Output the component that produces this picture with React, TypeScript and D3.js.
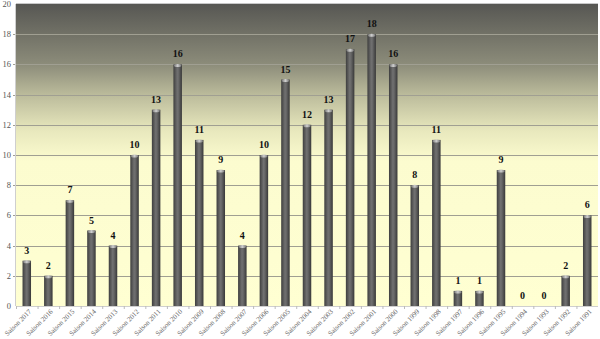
import React from "react";
import * as d3 from "d3";

const seasons = ["Saison 2017","Saison 2016","Saison 2015","Saison 2014","Saison 2013","Saison 2012","Saison 2011","Saison 2010","Saison 2009","Saison 2008","Saison 2007","Saison 2006","Saison 2005","Saison 2004","Saison 2003","Saison 2002","Saison 2001","Saison 2000","Saison 1999","Saison 1998","Saison 1997","Saison 1996","Saison 1995","Saison 1994","Saison 1993","Saison 1992","Saison 1991"];
const values = [3,2,7,5,4,10,13,16,11,9,4,10,15,12,13,17,18,16,8,11,1,1,9,0,0,2,6];
const yTicks = [0,2,4,6,8,10,12,14,16,18,20];

export default function App() {
  const W = 600, H = 339;
  const left = 16, right = 598, top = 4, bottom = 306;
  const x = d3.scaleBand<string>().domain(seasons).range([left, right]).paddingInner(0).paddingOuter(0);
  const y = d3.scaleLinear().domain([0, 20]).range([bottom, top]);
  const bw = 8.5;
  const font = "'Liberation Serif', 'Times New Roman', serif";
  return (
    <svg width={W} height={H} style={{ position: "absolute", left: 0, top: 0, display: "block" }}>
      <defs>
        <linearGradient id="bg" x1="0" y1="0" x2="0" y2="1">
          <stop offset="0" stopColor="#575753" />
          <stop offset="0.2" stopColor="#8c8c7a" />
          <stop offset="0.3" stopColor="#bbbb9b" />
          <stop offset="0.42" stopColor="#e8e8bd" />
          <stop offset="0.52" stopColor="#fcfccf" />
          <stop offset="1" stopColor="#ffffd2" />
        </linearGradient>
        <linearGradient id="bar" x1="0" y1="0" x2="1" y2="0">
          <stop offset="0" stopColor="#3e3e3e" />
          <stop offset="0.45" stopColor="#707070" />
          <stop offset="0.6" stopColor="#686868" />
          <stop offset="1" stopColor="#383838" />
        </linearGradient>
        <linearGradient id="cap" x1="0" y1="0" x2="1" y2="0">
          <stop offset="0" stopColor="#777" />
          <stop offset="0.5" stopColor="#cfcfcf" />
          <stop offset="1" stopColor="#777" />
        </linearGradient>
      </defs>
      <rect x={left} y={top} width={right - left} height={bottom - top} fill="url(#bg)" />
      <line x1={left} x2={right} y1={top - 0.5} y2={top - 0.5} stroke="#c8c8c8" strokeWidth={1} />
      {yTicks.map((t) => (
        <g key={t}>
          {t > 0 && t < 20 && (
            <line x1={left - 3} x2={right} y1={Math.round(y(t)) + 0.5} y2={Math.round(y(t)) + 0.5} stroke="#a09f92" strokeWidth={1} />
          )}
          <text x={11} y={y(t) + 3} fontSize={8.5} fill="#555" textAnchor="end" fontFamily={font}>{t}</text>
        </g>
      ))}
      <line x1={left - 0.5} x2={left - 0.5} y1={top} y2={bottom} stroke="#cfcfcf" strokeWidth={1} />
      <line x1={left} x2={right} y1={bottom + 0.5} y2={bottom + 0.5} stroke="#cfcfcf" strokeWidth={1} />
      {seasons.map((s) => (
        <line key={"tk" + s} x1={(x(s) as number) + 0.5} x2={(x(s) as number) + 0.5} y1={bottom} y2={bottom + 3} stroke="#bbb" strokeWidth={1} />
      ))}
      {seasons.map((s, i) => {
        const cx = (x(s) as number) + x.bandwidth() / 2;
        const v = values[i];
        const yt = y(v);
        return (
          <g key={s}>
            {v > 0 && (
              <>
                <rect x={cx - bw / 2} y={yt} width={bw} height={bottom - yt} fill="url(#bar)" />
                <ellipse cx={cx} cy={yt + 1} rx={bw / 2 - 0.5} ry={1.5} fill="url(#cap)" />
              </>
            )}
            <text x={cx} y={yt - 7} fontSize={10} fontWeight="bold" textAnchor="middle" fontFamily={font} fill="#111">{v}</text>
            <text transform={`translate(${cx + 5},${bottom + 6}) rotate(-45)`} fontSize={7} fill="#666" textAnchor="end" fontFamily={font}>{s}</text>
          </g>
        );
      })}
    </svg>
  );
}
